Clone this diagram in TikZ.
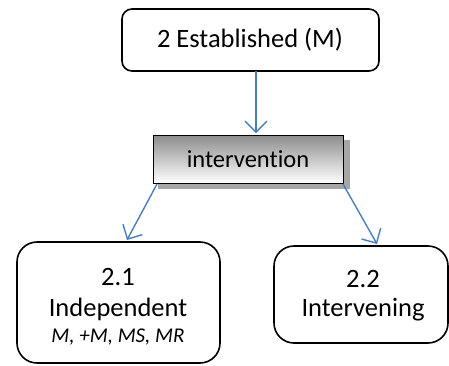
\documentclass[tikz,border=0pt]{standalone}
\usepackage{fontspec}
\setmainfont[Ligatures=CommonOff]{Carlito}
\usetikzlibrary{arrows.meta,positioning}
\definecolor{linkblue}{HTML}{4A7EBB}
\tikzset{
  card/.style={draw=black, line width=1.6pt, rounded corners=#1, fill=white},
  card/.default=10pt,
  link/.style={draw=linkblue, line width=1.4pt,
    -{Straight Barb[length=11pt,width=22pt,line width=1.4pt]}},
  gradbox/.style={draw=black, line width=1pt, top color=black!45, bottom color=white},
  big/.style={font=\fontsize{26.5}{30}\selectfont}
}
\begin{document}
\begin{tikzpicture}[x=1pt,y=-1pt]
  \useasboundingbox (0,0) rectangle (449,365);
  % top box
  \draw[card] (122,9) rectangle (379,71);
  \node[big] (top) at (250,40) {2 Established (M)};
  \coordinate (topb) at (256,71);
  % intervention box with stippled shadow
  \fill[black!35] (158,140) rectangle (350,189);
  \shade[gradbox] (153,135) rectangle (343,183);
  \node[font=\fontsize{24.5}{28}\selectfont] (mid) at (248,159) {intervention};
  \coordinate (midt) at (256,133);
  \coordinate (midl) at (157,184);
  \coordinate (midr) at (343,184);
  % left result box
  \draw[card=20pt] (17,242) rectangle (220,363);
  \node[big] (l1) at (118,277) {2.1};
  \node[big] (l2) at (118,309) {Independent};
  \node[font=\fontsize{21}{24}\selectfont\itshape] (l3) at (118,337) {M, +M, MS, MR};
  \coordinate (lt) at (127,240);
  % right result box
  \draw[card=20pt] (274,246) rectangle (448,343);
  \node[big] (r1) at (363,279) {2.2};
  \node[big] (r2) at (363,310) {Intervening};
  \coordinate (rt) at (377,244);
  % connectors
  \draw[link] (topb) -- (midt);
  \draw[link] (midl) -- (lt);
  \draw[link] (midr) -- (rt);
\end{tikzpicture}
\end{document}
